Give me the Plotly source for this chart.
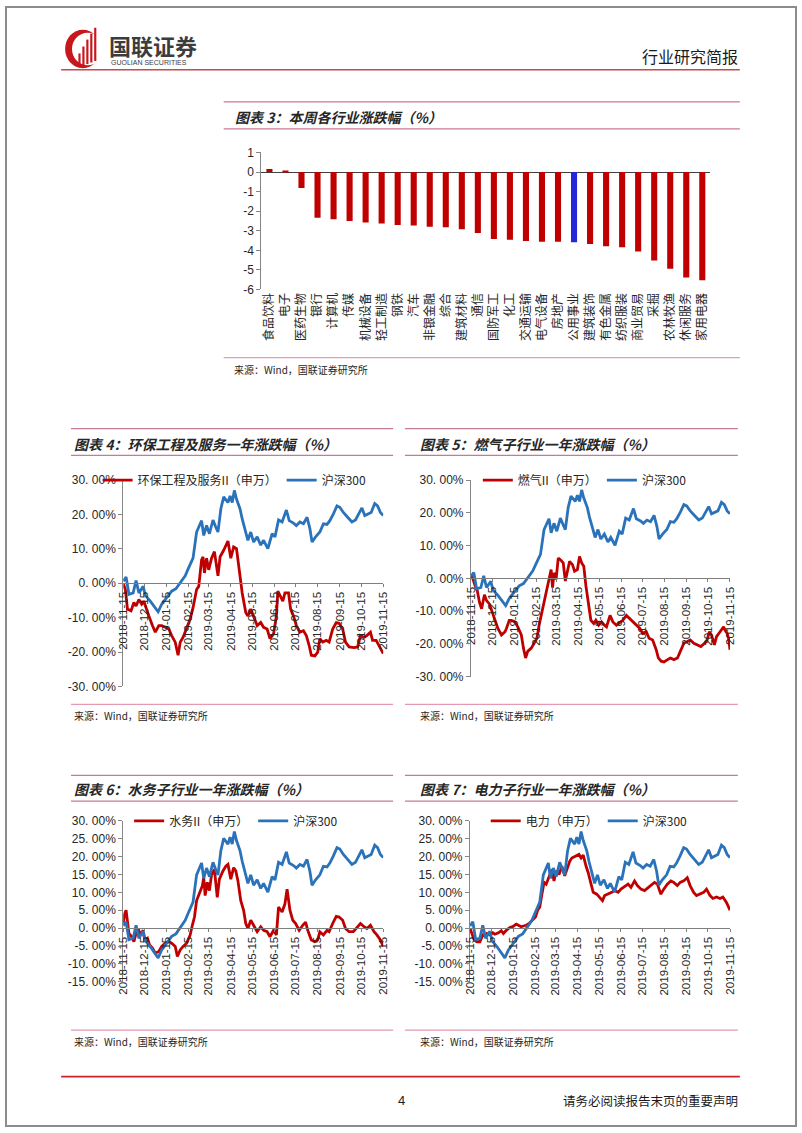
import plotly.graph_objects as go
import pandas as pd

W, H = 802, 1133
CJK = "Noto Sans CJK SC"
LAT = "Liberation Sans, Arial, sans-serif"
RED = "#C00000"
BLUE = "#2A72BA"
BAR_BLUE = "#2626D9"
AXIS = "#868686"
TXT = "#262626"
RULE = "#C77A97"


def px(x):
    return x / W


def py(y):
    return 1 - y / H


# ---------------- Chart 3 data ----------------
industries = ["食品饮料", "电子", "医药生物", "银行", "计算机", "传媒", "机械设备", "轻工制造",
              "钢铁", "汽车", "非银金融", "综合", "建筑材料", "通信", "国防军工", "化工",
              "交通运输", "电气设备", "房地产", "公用事业", "建筑装饰", "有色金属", "纺织服装",
              "商业贸易", "采掘", "农林牧渔", "休闲服务", "家用电器"]
weekly_change = [0.15, 0.05, -0.81, -2.33, -2.41, -2.50, -2.58, -2.63, -2.70, -2.73, -2.80,
                 -2.82, -2.92, -3.12, -3.42, -3.46, -3.52, -3.56, -3.56, -3.59, -3.68, -3.79,
                 -3.84, -4.06, -4.52, -4.94, -5.39, -5.53]
highlight_industry = "公用事业"
bar_ticks = [1, 0, -1, -2, -3, -4, -5, -6]
bar_tick_labels = ["1", "0", "-1", "-2", "-3", "-4", "-5", "-6"]

# ---------------- line charts data (days since 2018-11-15, % change) ----------------
start_date = "2018-11-15"
end_date = "2019-11-15"
month_ticks = ["2018-11-15", "2018-12-15", "2019-01-15", "2019-02-15", "2019-03-15",
               "2019-04-15", "2019-05-15", "2019-06-15", "2019-07-15", "2019-08-15",
               "2019-09-15", "2019-10-15", "2019-11-15"]

hs300_day = [0, 4, 8, 14, 18, 22, 28, 31, 38, 43, 49, 54, 61, 68, 74, 77, 82, 87, 91, 95,
             98, 103, 106, 110, 113, 117, 121, 126, 130, 133, 137, 141, 147, 150, 153, 156, 159, 164, 167, 172,
             175, 179, 183, 188, 193, 197, 203, 209, 213, 218, 223, 229, 233, 239, 243, 248, 253, 258, 262, 265,
             270, 276, 281, 286, 290, 295, 300, 304, 309, 315, 321, 326, 331, 335, 339, 344, 348, 353, 357, 361,
             365]
hs300_pct = [0.6, 1.8, -3.2, -2.8, 0.8, -2.8, -0.9, -3.5, -5.2, -6.6, -8.3, -6.1, -4.2, -2.3, -1.6, -0.7,
             1.0, 2.2, 4.1, 5.8, 7.3, 14.9, 16.3, 18.2, 13.9, 16.8, 14.4, 18.4, 16.3, 14.9, 21.6, 25.1,
             23.5, 25.4, 23.5, 27.0, 24.5, 21.6, 18.7, 14.9, 12.5, 14.9, 12.0, 13.5, 11.1, 12.5, 10.1, 14.4,
             13.5, 18.4, 17.8, 21.3, 18.2, 17.5, 16.8, 17.8, 17.3, 19.2, 15.9, 12.0, 13.5, 14.9, 17.3, 17.1,
             18.2, 20.2, 22.5, 22.1, 20.6, 19.2, 17.8, 18.4, 20.2, 21.9, 19.7, 20.2, 20.6, 23.2, 22.5, 20.6,
             19.7]

env_day = [0, 3, 6, 11, 15, 18, 22, 26, 29, 32, 36, 41, 45, 50, 54, 59, 64, 68, 73, 77,
           80, 84, 89, 94, 98, 103, 106, 110, 112, 114, 117, 120, 124, 128, 133, 136, 141, 144, 147, 151,
           155, 159, 161, 164, 167, 172, 175, 179, 183, 188, 193, 197, 202, 206, 211, 215, 217, 220, 224, 227,
           232, 235, 239, 243, 248, 253, 257, 261, 264, 269, 273, 276, 280, 285, 289, 294, 299, 303, 308, 312,
           317, 324, 329, 333, 338, 342, 347, 350, 355, 359, 362, 365]
env_pct = [0, -1.8, -7.5, -8.0, -5.6, -6.6, -4.7, -6.1, -5.2, -6.8, -9.5, -12.3, -14.2, -12.3, -12.3,
           -12.8, -13.3, -15.2, -17.1, -20.9, -17.1, -15.7, -13.3, -10.4, -7.1, -1.8, -0.9, 6.8, 7.7, 3.0,
           7.3, 3.9, 7.3, 9.2, 2.2, 7.7, 9.6, 11.1, 12.3, 7.3, 10.6, 10.1, 6.8, 1.1, -2.8, -8.5, -9.5,
           -7.5, -9.9, -12.3, -11.4, -12.8, -13.3, -16.1, -14.7, -9.5, -2.3, -3.7, -5.2, -2.8, -2.8, -7.5,
           -9.5, -12.3, -14.2, -13.8, -15.2, -18.1, -20.9, -21.1, -20.0, -16.1, -17.1, -16.6, -17.1, -13.3,
           -11.4, -11.6, -13.3, -17.1, -18.5, -18.7, -18.5, -15.2, -15.7, -15.2, -14.2, -16.6, -16.6, -18.1,
           -19.5, -20.4]

gas_day = [0, 3, 6, 9, 12, 15, 19, 22, 26, 29, 34, 38, 43, 48, 50, 54, 57, 62, 66, 71,
           74, 77, 80, 85, 89, 93, 96, 101, 106, 109, 113, 115, 117, 120, 123, 126, 130, 133, 136, 139,
           143, 146, 150, 153, 156, 159, 162, 166, 169, 173, 176, 180, 184, 188, 191, 196, 200, 205, 210, 214,
           219, 224, 228, 233, 238, 242, 247, 251, 256, 261, 264, 268, 272, 277, 281, 286, 291, 295, 300, 305,
           309, 314, 319, 324, 329, 332, 336, 339, 343, 346, 351, 356, 358, 361, 363, 365]
gas_pct = [0.9, -0.3, -2.3, -3.8, -7.3, -9.3, -5.0, -6.8, -7.8, -9.8, -13.3, -15.3, -17.3, -16.3, -15.3,
           -12.8, -12.8, -13.3, -14.8, -17.3, -21.3, -24.3, -22.3, -21.3, -19.8, -18.3, -14.3, -9.3, -5.3,
           -1.3, 2.7, -2.8, 1.7, -0.3, 6.2, 5.7, 4.7, -0.8, 2.7, 5.2, 4.2, 2.2, 2.7, 6.7, 4.7, 3.7, -2.3,
           -9.3, -12.8, -13.8, -12.8, -14.3, -13.3, -14.3, -14.8, -11.3, -13.3, -14.3, -13.3, -12.8, -11.3,
           -12.3, -13.3, -14.3, -15.3, -16.8, -16.3, -18.3, -18.8, -21.8, -24.3, -25.3, -25.5, -24.8, -24.3,
           -24.8, -24.3, -22.3, -19.8, -19.3, -18.8, -19.8, -20.3, -20.8, -19.8, -19.3, -16.3, -17.3, -20.3,
           -17.8, -16.3, -14.8, -15.8, -16.8, -18.3, -21.8]

water_day = [0, 2, 4, 6, 8, 12, 15, 18, 21, 24, 28, 30, 34, 37, 41, 45, 50, 54, 59, 64,
             68, 73, 76, 80, 84, 89, 94, 97, 100, 103, 107, 111, 113, 115, 118, 121, 124, 128, 132, 135,
             140, 144, 147, 151, 155, 158, 161, 165, 169, 172, 175, 179, 183, 188, 193, 197, 202, 206, 211, 215,
             218, 223, 227, 230, 234, 238, 242, 247, 252, 256, 259, 264, 269, 273, 276, 281, 286, 289, 294, 299,
             303, 308, 312, 317, 323, 327, 333, 338, 342, 347, 352, 356, 361, 365]
water_pct = [1.3, 4.0, 5.0, 0.8, -1.5, -2.4, -3.8, -1.5, -0.1, -1.9, -0.6, -3.3, -2.8, -4.7, -5.6, -7.0,
             -6.5, -5.1, -4.2, -3.8, -4.2, -5.1, -7.9, -6.1, -5.1, -4.2, -1.9, 0.8, 3.1, 7.7, 9.5, 11.8,
             14.1, 9.1, 12.8, 10.5, 15.0, 16.4, 8.6, 13.7, 16.0, 17.3, 17.8, 13.7, 16.9, 16.0, 13.2, 7.7,
             5.0, 1.3, -0.1, 2.2, 0.8, -1.0, 0.4, -0.6, -1.0, -2.4, -0.6, -1.9, 5.9, 4.5, 6.8, 10.9, 5.0,
             2.2, 1.3, -0.6, 0.8, 1.7, -0.6, -3.3, -3.8, -3.3, -1.0, -1.9, -0.6, -1.0, 1.3, 3.3, 3.1, 2.2,
             -0.1, -1.0, -1.0, -0.1, 1.3, 0.4, -0.1, 0.8, -1.0, -1.9, -3.3, -5.1]

power_day = [0, 3, 6, 10, 14, 18, 21, 24, 28, 32, 35, 40, 44, 47, 51, 56, 60, 65, 69, 72,
             75, 79, 83, 88, 92, 95, 98, 101, 104, 107, 111, 115, 118, 121, 125, 129, 133, 136, 140, 143,
             148, 153, 156, 159, 163, 166, 170, 173, 178, 182, 186, 189, 194, 199, 203, 208, 212, 217, 222, 226,
             231, 235, 240, 245, 249, 254, 259, 263, 268, 272, 277, 282, 286, 291, 295, 300, 305, 309, 314, 318,
             323, 328, 332, 337, 341, 346, 351, 355, 360, 363, 365]
power_pct = [0, -1.5, -3.3, -3.8, -3.8, -1.9, -2.2, -1.5, -1.9, -1.3, -1.7, -1.3, -0.7, -1.5, -0.6, 0.2,
             0.4, 1.1, 0.8, 0.4, 0.6, 0.8, 1.3, 2.2, 3.1, 5.0, 5.9, 9.5, 12.8, 12.3, 14.1, 16.4, 13.2, 16.0,
             15.0, 17.3, 14.6, 16.4, 18.7, 19.6, 20.1, 20.6, 19.6, 20.4, 17.3, 15.5, 12.3, 10.0, 9.5, 8.6,
             7.7, 9.1, 9.5, 10.0, 10.5, 10.0, 10.9, 11.6, 12.3, 11.4, 13.2, 11.9, 10.9, 10.5, 11.2, 11.9,
             12.8, 12.3, 9.5, 10.9, 12.3, 13.2, 12.8, 11.9, 12.8, 13.2, 14.1, 11.9, 10.0, 9.1, 9.5, 10.0,
             10.9, 9.1, 8.3, 8.7, 8.3, 8.7, 7.2, 5.9, 5.0]

ticks_wide = [-30, -20, -10, 0, 10, 20, 30]
labels_wide = ["-30. 00%", "-20. 00%", "-10. 00%", "0. 00%", "10. 00%", "20. 00%", "30. 00%"]
ticks_narrow = [-15, -10, -5, 0, 5, 10, 15, 20, 25, 30]
labels_narrow = ["-15. 00%", "-10. 00%", "-5. 00%", "0. 00%", "5. 00%", "10. 00%", "15. 00%",
                 "20. 00%", "25. 00%", "30. 00%"]

hs300_name = "沪深300"


def to_dates(days):
    base = pd.Timestamp(start_date)
    return [base + pd.Timedelta(days=d) for d in days]


fig = go.Figure()

# ---------------- bar chart ----------------
bar_colors = [BAR_BLUE if name == highlight_industry else RED for name in industries]
fig.add_trace(go.Bar(x=industries, y=weekly_change, marker=dict(color=bar_colors, line=dict(width=0)),
                     width=0.38, xaxis="x", yaxis="y", showlegend=False, hoverinfo="skip"))

layout = dict(
    width=W, height=H, margin=dict(l=0, r=0, t=0, b=0), autosize=False,
    paper_bgcolor="white", plot_bgcolor="rgba(0,0,0,0)", hovermode=False,
    xaxis=dict(domain=[px(259.3), px(715)], anchor="y", type="category", range=[-0.5, 27.5],
               tickangle=-90, tickfont=dict(family=CJK, size=12, color=TXT), showline=False,
               ticks="", showgrid=False, zeroline=False, fixedrange=True),
    yaxis=dict(domain=[py(286), py(147.3)], anchor="x", range=[-6, 1], tickmode="array",
               tickvals=bar_ticks, ticktext=bar_tick_labels, showline=True, linecolor=AXIS,
               ticks="outside", ticklen=4, tickcolor=AXIS, showgrid=False, zeroline=True,
               zerolinecolor="#404040", zerolinewidth=1,
               tickfont=dict(family=LAT, size=12, color=TXT), fixedrange=True),
)

charts = [
    dict(k=2, name="环保工程及服务II（申万）", day=env_day, pct=env_pct, xd=(119, 383), yd=(479, 688),
         yr=(-30, 30), tv=ticks_wide, tt=labels_wide, leg=(93, 479)),
    dict(k=3, name="燃气II（申万）", day=gas_day, pct=gas_pct, xd=(472, 735), yd=(479, 678),
         yr=(-30, 30), tv=ticks_wide, tt=labels_wide, leg=(479, 479)),
    dict(k=4, name="水务II（申万）", day=water_day, pct=water_pct, xd=(119, 383), yd=(824, 987),
         yr=(-15, 30), tv=ticks_narrow, tt=labels_narrow, leg=(125, 824)),
    dict(k=5, name="电力（申万）", day=power_day, pct=power_pct, xd=(471, 735), yd=(824, 987),
         yr=(-15, 30), tv=ticks_narrow, tt=labels_narrow, leg=(487, 824)),
]

for i, c in enumerate(charts):
    k = c["k"]
    legname = "legend" if i == 0 else f"legend{i + 1}"
    fig.add_trace(go.Scatter(x=to_dates(c["day"]), y=c["pct"], mode="lines", name=c["name"],
                             line=dict(color=RED, width=2.8), xaxis=f"x{k}", yaxis=f"y{k}",
                             legend=legname, hoverinfo="skip"))
    fig.add_trace(go.Scatter(x=to_dates(hs300_day), y=hs300_pct, mode="lines", name=hs300_name,
                             line=dict(color=BLUE, width=2.8), xaxis=f"x{k}", yaxis=f"y{k}",
                             legend=legname, hoverinfo="skip"))
    ytop, ybot = c["yd"]
    lo, hi = c["yr"]
    zero_px = ytop + (hi - 0) / (hi - lo) * (ybot - ytop)
    layout[f"xaxis{k}"] = dict(domain=[px(c["xd"][0]), px(c["xd"][1])], anchor="free",
                               position=py(zero_px), type="date", range=[start_date, end_date],
                               tickmode="array", tickvals=month_ticks, tickformat="%Y-%m-%d",
                               tickangle=-90, tickfont=dict(family=LAT, size=11.5, color=TXT),
                               showline=True, linecolor="#7f7f7f", linewidth=1, ticks="outside",
                               ticklen=3, tickcolor="#7f7f7f", showgrid=False, zeroline=False,
                               fixedrange=True)
    layout[f"yaxis{k}"] = dict(domain=[py(ybot), py(ytop)], anchor=f"x{k}", range=[lo, hi],
                               tickmode="array", tickvals=c["tv"], ticktext=c["tt"], showline=True,
                               linecolor=AXIS, ticks="outside", ticklen=4, tickcolor=AXIS,
                               showgrid=False, zeroline=False,
                               tickfont=dict(family=LAT, size=12, color=TXT), fixedrange=True)
    layout[legname] = dict(orientation="h", x=px(c["leg"][0]), y=py(c["leg"][1]), xanchor="left",
                           yanchor="middle", bgcolor="rgba(0,0,0,0)", borderwidth=0,
                           font=dict(family=CJK, size=12, color=TXT), itemwidth=30,
                           traceorder="normal", itemclick=False, itemdoubleclick=False)

fig.update_layout(**layout)

# ---------------- page decoration ----------------
shapes = []


def hline(x0, x1, y, color, width):
    shapes.append(dict(type="line", xref="paper", yref="paper", x0=px(x0), x1=px(x1), y0=py(y), y1=py(y),
                       line=dict(color=color, width=width)))


# page border
shapes.append(dict(type="rect", xref="paper", yref="paper", x0=0, x1=1, y0=0, y1=1,
                   line=dict(color="#8c8c8c", width=2)))
# header / footer rules
hline(56, 745, 63.5, "#C8484C", 1.6)
hline(56, 745, 1083, "#D0202A", 1.8)
# section rules
hline(221, 745, 96, RULE, 1.2)
hline(221, 745, 123.5, RULE, 1.2)
hline(221, 745, 355, "#E39AB2", 1.2)
for (x0, x1) in [(66, 393), (405, 743)]:
    hline(x0, x1, 427, RULE, 1.2)
    hline(x0, x1, 454, RULE, 1.2)
    hline(x0, x1, 706, "#E39AB2", 1.2)
    hline(x0, x1, 778, RULE, 1.2)
    hline(x0, x1, 804, RULE, 1.2)
    hline(x0, x1, 1036, "#E39AB2", 1.2)

# logo
shapes.append(dict(type="circle", xref="paper", yref="paper", x0=px(60), x1=px(96), y0=py(62), y1=py(23),
                   fillcolor="#C8161D", line=dict(width=0)))
shapes.append(dict(type="circle", xref="paper", yref="paper", x0=px(67), x1=px(99), y0=py(59), y1=py(26),
                   fillcolor="white", line=dict(width=0)))
for bx, top in [(73.5, 47), (77.5, 40), (81.5, 33), (85.5, 27), (89.5, 21)]:
    shapes.append(dict(type="rect", xref="paper", yref="paper", x0=px(bx), x1=px(bx + 2.2),
                       y0=py(61 - (bx - 73.5) * 0.4), y1=py(top), fillcolor="#C8161D", line=dict(width=0)))

annotations = []


def text(x, y, s, size, family=CJK, color=TXT, anchor="left"):
    annotations.append(dict(xref="paper", yref="paper", x=px(x), y=py(y), text=s, showarrow=False,
                            xanchor=anchor, yanchor="middle", font=dict(family=family, size=size, color=color)))


text(103, 38, "<b>国联证券</b>", 22, color="#3c3c3c")
text(105, 56.5, "GUOLIAN SECURITIES", 7, family=LAT, color="#3c3c3c")
text(745, 50, "行业研究简报", 16, color="#1a1a1a", anchor="right")

text(230, 111, "<b><i>图表 3：本周各行业涨跌幅（%）</i></b>", 14)
text(229, 367, "来源：Wind，国联证券研究所", 10)
text(67, 442, "<b><i>图表 4：环保工程及服务一年涨跌幅（%）</i></b>", 14)
text(418, 442, "<b><i>图表 5：燃气子行业一年涨跌幅（%）</i></b>", 14)
text(67, 717, "来源：Wind，国联证券研究所", 10)
text(418, 717, "来源：Wind，国联证券研究所", 10)
text(67, 792, "<b><i>图表 6：水务子行业一年涨跌幅（%）</i></b>", 14)
text(418, 792, "<b><i>图表 7：电力子行业一年涨跌幅（%）</i></b>", 14)
text(67, 1047, "来源：Wind，国联证券研究所", 10)
text(418, 1047, "来源：Wind，国联证券研究所", 10)

text(401, 1107, "4", 13, family=LAT, color="#1a1a1a", anchor="center")
text(745, 1107, "请务必阅读报告末页的重要声明", 12.5, color="#1a1a1a", anchor="right")

fig.update_layout(shapes=shapes, annotations=annotations)

fig.write_html("out.html", config={"displayModeBar": False},
               post_script="document.body.style.margin='0px';document.body.style.overflow='hidden';")
